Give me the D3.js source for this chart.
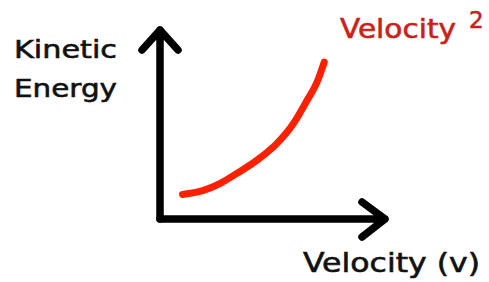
<!DOCTYPE html>
<meta charset="utf-8">
<script src="https://d3js.org/d3.v7.min.js"></script>
<style>
  body { margin: 0; background: #fff; }
  text { font-family: "DejaVu Sans", sans-serif; }
</style>
<div id="my_dataviz"></div>
<script>

// curve (velocity, kinetic energy) in arbitrary units
var velocity = [1.0, 1.9, 2.7, 3.4, 4.3, 5.2, 5.9, 6.5, 7.0, 7.3];
var energy   = [13, 15, 19, 24, 31, 40, 50, 62, 73, 83];

var xDomain = [0, 10];
var yDomain = [0, 100];

var yLabel = ["Kinetic", "Energy"];
var xLabel = "Velocity (v)";
var curveLabel = "Velocity";
var curveSup = "2";

var width = 489, height = 282;

var svg = d3.select("#my_dataviz")
  .append("svg")
    .attr("width", width)
    .attr("height", height);

var x = d3.scaleLinear().domain(xDomain).range([160, 385]);
var y = d3.scaleLinear().domain(yDomain).range([219, 30]);

var data = velocity.map(function(v, i) { return {x: v, y: energy[i]}; });

// axes drawn as hand-style arrows
var axisStyle = function(sel) {
  sel.attr("fill", "none")
    .attr("stroke", "#000")
    .attr("stroke-width", 7.5)
    .attr("stroke-linecap", "round")
    .attr("stroke-linejoin", "round");
};

var x0 = x(xDomain[0]), x1 = x(xDomain[1]);
var y0 = y(yDomain[0]), y1 = y(yDomain[1]);

// y axis with arrow head
svg.append("path")
  .call(axisStyle)
  .attr("d", "M" + x0 + "," + y0 + "V" + y1 +
             "M" + (x0 - 18) + "," + (y1 + 20) + "L" + x0 + "," + y1 + "L" + (x0 + 18) + "," + (y1 + 20));

// x axis with arrow head
svg.append("path")
  .call(axisStyle)
  .attr("d", "M" + x0 + "," + y0 + "H" + x1 +
             "M" + (x1 - 23) + "," + (y0 - 17) + "L" + x1 + "," + y0 + "L" + (x1 - 23) + "," + (y0 + 18));

// the curve
svg.append("path")
  .datum(data)
  .attr("fill", "none")
  .attr("stroke", "#ff2000")
  .attr("stroke-width", 7)
  .attr("stroke-linecap", "round")
  .attr("d", d3.line()
    .x(function(d) { return x(d.x); })
    .y(function(d) { return y(d.y); })
    .curve(d3.curveMonotoneX));

// y label
svg.selectAll(".ylab")
  .data(yLabel)
  .enter().append("text")
    .attr("class", "ylab")
    .attr("x", 14)
    .attr("y", function(d, i) { return 58 + i * 39; })
    .attr("textLength", 103)
    .attr("lengthAdjust", "spacingAndGlyphs")
    .style("font-size", "25px")
    .attr("fill", "#111")
    .attr("stroke", "#111")
    .attr("stroke-width", 0.6)
    .text(function(d) { return d; });

// x label
svg.append("text")
  .attr("x", 303)
  .attr("y", 272)
  .attr("textLength", 177)
  .attr("lengthAdjust", "spacingAndGlyphs")
  .style("font-size", "27px")
  .attr("fill", "#111")
  .attr("stroke", "#111")
  .attr("stroke-width", 0.6)
  .text(xLabel);

// curve label
svg.append("text")
  .attr("x", 340)
  .attr("y", 38)
  .attr("textLength", 116)
  .attr("lengthAdjust", "spacingAndGlyphs")
  .style("font-size", "27px")
  .attr("fill", "#cc1f1a")
  .attr("stroke", "#cc1f1a")
  .attr("stroke-width", 0.6)
  .text(curveLabel);

svg.append("text")
  .attr("x", 469)
  .attr("y", 28)
  .style("font-size", "23px")
  .attr("fill", "#cc1f1a")
  .attr("stroke", "#cc1f1a")
  .attr("stroke-width", 0.6)
  .text(curveSup);

</script>
